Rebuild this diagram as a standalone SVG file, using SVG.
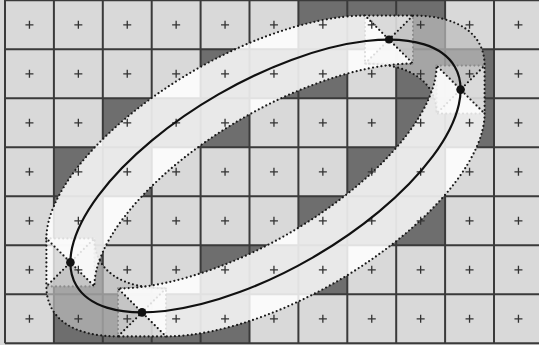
<svg xmlns="http://www.w3.org/2000/svg" width="539" height="345" viewBox="0 0 539 345">
<style>
.dk{fill:#6e6e6e}
.gl{fill:none;stroke:#3a3a3a;stroke-width:2}
.pl{fill:none;stroke:#333;stroke-width:1.3}
.dt{fill:none;stroke:#1a1a1a;stroke-width:2.2;stroke-linecap:round;stroke-dasharray:0 4.2}
.sq{fill:#fff;fill-opacity:.75}
.w{fill:#fff;fill-opacity:.85}
.g{fill:#bcbcbc;fill-opacity:.7}
</style>
<defs>
<path id="plus" d="M-4 0H4M0-4V4" class="pl"/>
</defs>
<rect x="0" y="0" width="539" height="345" fill="#d9d9d9"/>
<g id="grid">
<g id="dark-cells">
<rect class="dk" x="298.4" y="0.3" width="48.9" height="49"/>
<rect class="dk" x="347.3" y="0.3" width="48.9" height="49"/>
<rect class="dk" x="396.2" y="0.3" width="48.9" height="49"/>
<rect class="dk" x="200.6" y="49.3" width="48.9" height="49"/>
<rect class="dk" x="249.5" y="49.3" width="48.9" height="49"/>
<rect class="dk" x="298.4" y="49.3" width="48.9" height="49"/>
<rect class="dk" x="396.2" y="49.3" width="48.9" height="49"/>
<rect class="dk" x="445.1" y="49.3" width="48.9" height="49"/>
<rect class="dk" x="102.8" y="98.3" width="48.9" height="49"/>
<rect class="dk" x="151.7" y="98.3" width="48.9" height="49"/>
<rect class="dk" x="200.6" y="98.3" width="48.9" height="49"/>
<rect class="dk" x="396.2" y="98.3" width="48.9" height="49"/>
<rect class="dk" x="445.1" y="98.3" width="48.9" height="49"/>
<rect class="dk" x="53.9" y="147.3" width="48.9" height="49"/>
<rect class="dk" x="102.8" y="147.3" width="48.9" height="49"/>
<rect class="dk" x="347.3" y="147.3" width="48.9" height="49"/>
<rect class="dk" x="396.2" y="147.3" width="48.9" height="49"/>
<rect class="dk" x="53.9" y="196.3" width="48.9" height="49"/>
<rect class="dk" x="298.4" y="196.3" width="48.9" height="49"/>
<rect class="dk" x="347.3" y="196.3" width="48.9" height="49"/>
<rect class="dk" x="396.2" y="196.3" width="48.9" height="49"/>
<rect class="dk" x="53.9" y="245.3" width="48.9" height="49"/>
<rect class="dk" x="200.6" y="245.3" width="48.9" height="49"/>
<rect class="dk" x="249.5" y="245.3" width="48.9" height="49"/>
<rect class="dk" x="298.4" y="245.3" width="48.9" height="49"/>
<rect class="dk" x="53.9" y="294.3" width="48.9" height="49"/>
<rect class="dk" x="102.8" y="294.3" width="48.9" height="49"/>
<rect class="dk" x="151.7" y="294.3" width="48.9" height="49"/>
<rect class="dk" x="200.6" y="294.3" width="48.9" height="49"/>
</g>
<path class="gl" d="M5 0V343.3M53.9 0V343.3M102.8 0V343.3M151.7 0V343.3M200.6 0V343.3M249.5 0V343.3M298.4 0V343.3M347.3 0V343.3M396.2 0V343.3M445.1 0V343.3M494 0V343.3M5 0.3H539M5 49.3H539M5 98.3H539M5 147.3H539M5 196.3H539M5 245.3H539M5 294.3H539M5 343.3H539"/>
</g>
<g id="pen-squares">
<rect class="sq" x="365" y="15.6" width="48" height="48"/>
<rect class="dt" x="365" y="15.6" width="48" height="48"/>
<rect class="sq" x="436.6" y="65.6" width="48" height="48"/>
<rect class="dt" x="436.6" y="65.6" width="48" height="48"/>
<rect class="sq" x="118" y="288.4" width="48" height="48"/>
<rect class="dt" x="118" y="288.4" width="48" height="48"/>
<rect class="sq" x="46.4" y="238.4" width="48" height="48"/>
<rect class="dt" x="46.4" y="238.4" width="48" height="48"/>
</g>
<g id="sweep-s1">
<path class="g" d="M413 15.6A218.6 94.2 -30 0 1 484.6 65.6L436.6 113.6A218.6 94.2 -30 0 0 365 63.6Z"/>
<path class="dt" d="M413 15.6A218.6 94.2 -30 0 1 484.6 65.6L436.6 113.6A218.6 94.2 -30 0 0 365 63.6Z"/>
</g>
<g id="sweep-s3">
<path class="g" d="M118 336.4A218.6 94.2 -30 0 1 46.4 286.4L94.4 238.4A218.6 94.2 -30 0 0 166 288.4Z"/>
<path class="dt" d="M118 336.4A218.6 94.2 -30 0 1 46.4 286.4L94.4 238.4A218.6 94.2 -30 0 0 166 288.4Z"/>
</g>
<g id="sweep-s2">
<path class="w" d="M484.6 113.6A218.6 94.2 -30 0 1 166 336.4L118 288.4A218.6 94.2 -30 0 0 436.6 65.6Z"/>
<path class="dt" d="M484.6 113.6A218.6 94.2 -30 0 1 166 336.4L118 288.4A218.6 94.2 -30 0 0 436.6 65.6Z"/>
</g>
<g id="sweep-s4">
<path class="w" d="M46.4 238.4A218.6 94.2 -30 0 1 365 15.6L413 63.6A218.6 94.2 -30 0 0 94.4 286.4Z"/>
<path class="dt" d="M46.4 238.4A218.6 94.2 -30 0 1 365 15.6L413 63.6A218.6 94.2 -30 0 0 94.4 286.4Z"/>
</g>
<g id="centers">
<use href="#plus" x="29.45" y="24.8"/><use href="#plus" x="78.35" y="24.8"/><use href="#plus" x="127.25" y="24.8"/><use href="#plus" x="176.15" y="24.8"/><use href="#plus" x="225.05" y="24.8"/><use href="#plus" x="273.95" y="24.8"/><use href="#plus" x="322.85" y="24.8"/><use href="#plus" x="371.75" y="24.8"/><use href="#plus" x="420.65" y="24.8"/><use href="#plus" x="469.55" y="24.8"/><use href="#plus" x="518.45" y="24.8"/>
<use href="#plus" x="29.45" y="73.8"/><use href="#plus" x="78.35" y="73.8"/><use href="#plus" x="127.25" y="73.8"/><use href="#plus" x="176.15" y="73.8"/><use href="#plus" x="225.05" y="73.8"/><use href="#plus" x="273.95" y="73.8"/><use href="#plus" x="322.85" y="73.8"/><use href="#plus" x="371.75" y="73.8"/><use href="#plus" x="420.65" y="73.8"/><use href="#plus" x="469.55" y="73.8"/><use href="#plus" x="518.45" y="73.8"/>
<use href="#plus" x="29.45" y="122.8"/><use href="#plus" x="78.35" y="122.8"/><use href="#plus" x="127.25" y="122.8"/><use href="#plus" x="176.15" y="122.8"/><use href="#plus" x="225.05" y="122.8"/><use href="#plus" x="273.95" y="122.8"/><use href="#plus" x="322.85" y="122.8"/><use href="#plus" x="371.75" y="122.8"/><use href="#plus" x="420.65" y="122.8"/><use href="#plus" x="469.55" y="122.8"/><use href="#plus" x="518.45" y="122.8"/>
<use href="#plus" x="29.45" y="171.8"/><use href="#plus" x="78.35" y="171.8"/><use href="#plus" x="127.25" y="171.8"/><use href="#plus" x="176.15" y="171.8"/><use href="#plus" x="225.05" y="171.8"/><use href="#plus" x="273.95" y="171.8"/><use href="#plus" x="322.85" y="171.8"/><use href="#plus" x="371.75" y="171.8"/><use href="#plus" x="420.65" y="171.8"/><use href="#plus" x="469.55" y="171.8"/><use href="#plus" x="518.45" y="171.8"/>
<use href="#plus" x="29.45" y="220.8"/><use href="#plus" x="78.35" y="220.8"/><use href="#plus" x="127.25" y="220.8"/><use href="#plus" x="176.15" y="220.8"/><use href="#plus" x="225.05" y="220.8"/><use href="#plus" x="273.95" y="220.8"/><use href="#plus" x="322.85" y="220.8"/><use href="#plus" x="371.75" y="220.8"/><use href="#plus" x="420.65" y="220.8"/><use href="#plus" x="469.55" y="220.8"/><use href="#plus" x="518.45" y="220.8"/>
<use href="#plus" x="29.45" y="269.8"/><use href="#plus" x="78.35" y="269.8"/><use href="#plus" x="127.25" y="269.8"/><use href="#plus" x="176.15" y="269.8"/><use href="#plus" x="225.05" y="269.8"/><use href="#plus" x="273.95" y="269.8"/><use href="#plus" x="322.85" y="269.8"/><use href="#plus" x="371.75" y="269.8"/><use href="#plus" x="420.65" y="269.8"/><use href="#plus" x="469.55" y="269.8"/><use href="#plus" x="518.45" y="269.8"/>
<use href="#plus" x="29.45" y="318.8"/><use href="#plus" x="78.35" y="318.8"/><use href="#plus" x="127.25" y="318.8"/><use href="#plus" x="176.15" y="318.8"/><use href="#plus" x="225.05" y="318.8"/><use href="#plus" x="273.95" y="318.8"/><use href="#plus" x="322.85" y="318.8"/><use href="#plus" x="371.75" y="318.8"/><use href="#plus" x="420.65" y="318.8"/><use href="#plus" x="469.55" y="318.8"/><use href="#plus" x="518.45" y="318.8"/>
</g>
<g id="curve">
<ellipse cx="265.5" cy="176" rx="218.6" ry="94.2" transform="rotate(-30 265.5 176)" fill="none" stroke="#111" stroke-width="2.2"/>
<circle cx="389" cy="39.6" r="4" fill="#111"/>
<circle cx="460.6" cy="89.6" r="4.3" fill="#111"/>
<circle cx="142" cy="312.4" r="4.3" fill="#111"/>
<circle cx="70.4" cy="262.4" r="4.3" fill="#111"/>
</g>
</svg>
